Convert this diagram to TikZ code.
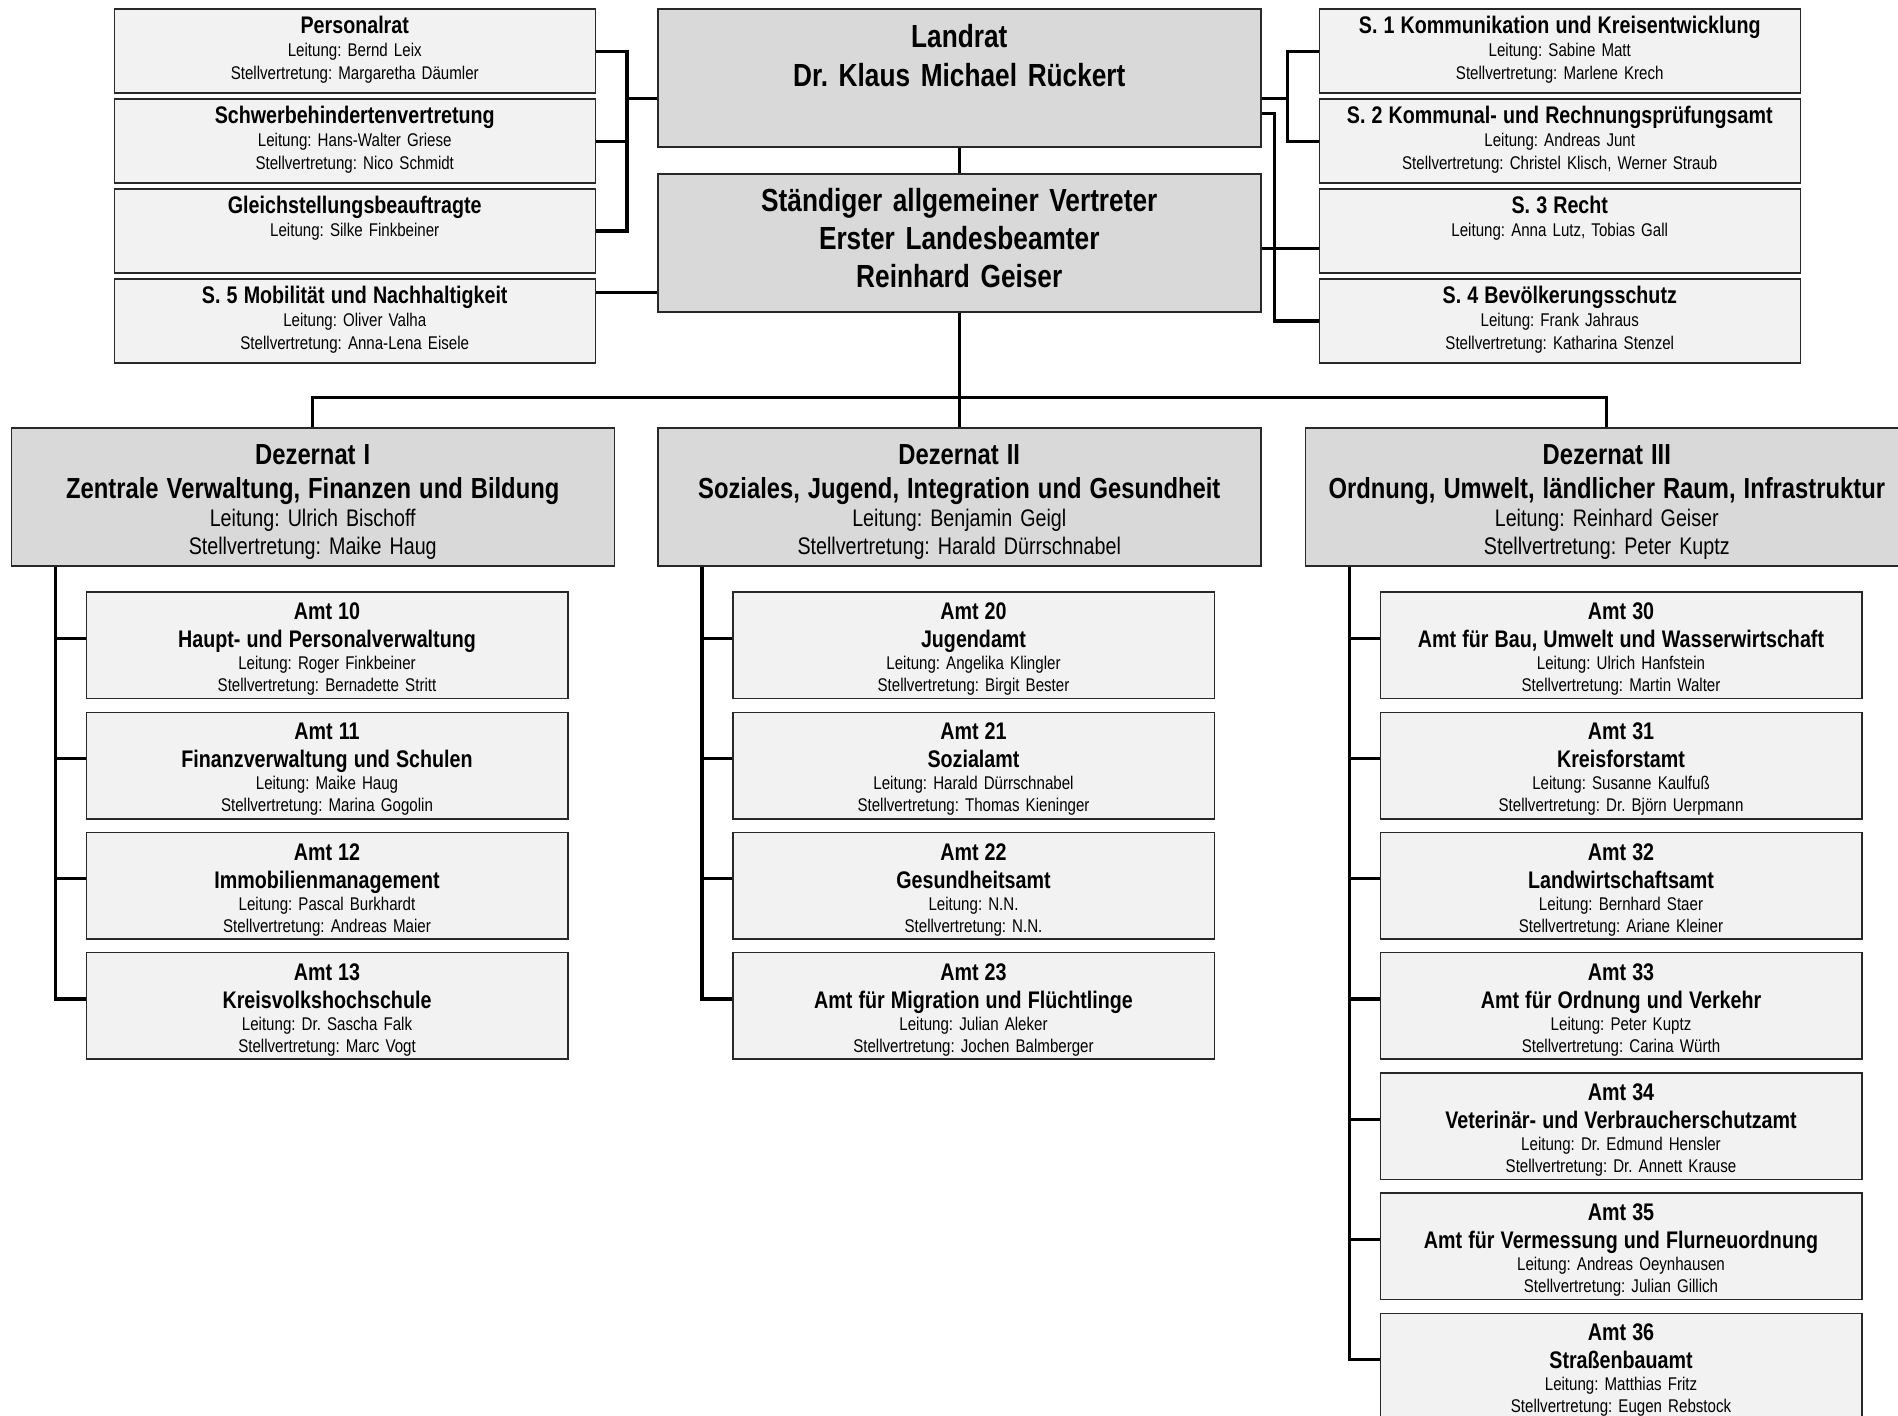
\documentclass[tikz,border=0pt]{standalone}
\usepackage{fontspec}
\setmainfont{Liberation Sans}[FakeStretch=0.82]
\usepackage{xcolor}
\usepackage{tikz}
\usetikzlibrary{positioning}
\frenchspacing
\definecolor{boxgrey}{RGB}{217,217,217}
\definecolor{boxlight}{RGB}{242,242,242}
\definecolor{boxline}{RGB}{40,40,40}
\tikzstyle{bigbox} = [rectangle, draw=boxline, line width=0.75pt, fill=boxgrey, inner sep=0pt, text width=301.5pt, align=center, text height=19pt, text depth=50pt, font=\fontsize{16}{19.4}\selectfont\bfseries]
\tikzstyle{dezbox} = [bigbox, text height=18pt, text depth=51pt, font=\fontsize{12}{14}\selectfont]
\tikzstyle{smallbox} = [rectangle, draw=boxline, line width=0.75pt, fill=boxlight, inner sep=0pt, text width=240.5pt, align=center, text height=12.2pt, text depth=29.8pt, font=\fontsize{9.2}{11.5}\selectfont]
\tikzstyle{amtbox} = [smallbox, text width=240.75pt, text height=13.8pt, text depth=39.45pt, font=\fontsize{9.2}{11}\selectfont]
\tikzstyle{link} = [line width=1.6pt]
\newcommand{\smalltitle}[1]{{\fontsize{12}{13.5}\selectfont\bfseries #1\par}}
\newcommand{\amttitle}[1]{{\fontsize{12}{14}\selectfont\bfseries #1\par}}
\newcommand{\deztitle}[1]{{\fontsize{14.5}{17}\selectfont\bfseries #1\par}}

\begin{document}
\begin{tikzpicture}
    \useasboundingbox (0,0) rectangle (949pt,-708pt);
    % Spitze
    \node (lr) [bigbox, anchor=north west] at (328.5pt,-4.25pt) {Landrat\\Dr. Klaus Michael Rückert};
    \node (stv) [bigbox, below=12.6pt of lr, font=\fontsize{16}{18.8}\selectfont\bfseries] {Ständiger allgemeiner Vertreter\\Erster Landesbeamter\\Reinhard Geiser};
    % Stabsstellen links
    \node (pr) [smallbox, anchor=north east] at ([xshift=-30.5pt]lr.north west) {\smalltitle{Personalrat}Leitung: Bernd Leix\\Stellvertretung: Margaretha Däumler};
    \node (sbv) [smallbox, below=2.2pt of pr] {\smalltitle{Schwerbehindertenvertretung}Leitung: Hans-Walter Griese\\Stellvertretung: Nico Schmidt};
    \node (gsb) [smallbox, below=2.2pt of sbv] {\smalltitle{Gleichstellungsbeauftragte}Leitung: Silke Finkbeiner};
    \node (s5) [smallbox, below=2.2pt of gsb] {\smalltitle{S. 5 Mobilität und Nachhaltigkeit}Leitung: Oliver Valha\\Stellvertretung: Anna-Lena Eisele};
    % Stabsstellen rechts
    \node (s1) [smallbox, anchor=north west] at ([xshift=28.5pt]lr.north east) {\smalltitle{S. 1 Kommunikation und Kreisentwicklung}Leitung: Sabine Matt\\Stellvertretung: Marlene Krech};
    \node (s2) [smallbox, below=2.2pt of s1] {\smalltitle{S. 2 Kommunal- und Rechnungsprüfungsamt}Leitung: Andreas Junt\\Stellvertretung: Christel Klisch, Werner Straub};
    \node (s3) [smallbox, below=2.2pt of s2] {\smalltitle{S. 3 Recht}Leitung: Anna Lutz, Tobias Gall};
    \node (s4) [smallbox, below=2.2pt of s3] {\smalltitle{S. 4 Bevölkerungsschutz}Leitung: Frank Jahraus\\Stellvertretung: Katharina Stenzel};
    % Dezernate
    \node (d2) [dezbox, below=57.4pt of stv] {\deztitle{Dezernat II\\Soziales, Jugend, Integration und Gesundheit}Leitung: Benjamin Geigl\\Stellvertretung: Harald Dürrschnabel};
    \node (d1) [dezbox, left=21pt of d2] {\deztitle{Dezernat I\\Zentrale Verwaltung, Finanzen und Bildung}Leitung: Ulrich Bischoff\\Stellvertretung: Maike Haug};
    \node (d3) [dezbox, right=21.5pt of d2] {\deztitle{Dezernat III\\Ordnung, Umwelt, ländlicher Raum, Infrastruktur}Leitung: Reinhard Geiser\\Stellvertretung: Peter Kuptz};
    % Dezernat I
    \node (a10) [amtbox, anchor=north west] at ([xshift=37.5pt, yshift=-12.15pt]d1.south west) {\amttitle{Amt 10\\Haupt- und Personalverwaltung}Leitung: Roger Finkbeiner\\Stellvertretung: Bernadette Stritt};
    \node (a11) [amtbox, below=6.1pt of a10] {\amttitle{Amt 11\\Finanzverwaltung und Schulen}Leitung: Maike Haug\\Stellvertretung: Marina Gogolin};
    \node (a12) [amtbox, below=6.1pt of a11] {\amttitle{Amt 12\\Immobilienmanagement}Leitung: Pascal Burkhardt\\Stellvertretung: Andreas Maier};
    \node (a13) [amtbox, below=6.1pt of a12] {\amttitle{Amt 13\\Kreisvolkshochschule}Leitung: Dr. Sascha Falk\\Stellvertretung: Marc Vogt};
    % Dezernat II
    \node (a20) [amtbox, anchor=north west] at ([xshift=37.5pt, yshift=-12.15pt]d2.south west) {\amttitle{Amt 20\\Jugendamt}Leitung: Angelika Klingler\\Stellvertretung: Birgit Bester};
    \node (a21) [amtbox, below=6.1pt of a20] {\amttitle{Amt 21\\Sozialamt}Leitung: Harald Dürrschnabel\\Stellvertretung: Thomas Kieninger};
    \node (a22) [amtbox, below=6.1pt of a21] {\amttitle{Amt 22\\Gesundheitsamt}Leitung: N.N.\\Stellvertretung: N.N.};
    \node (a23) [amtbox, below=6.1pt of a22] {\amttitle{Amt 23\\Amt für Migration und Flüchtlinge}Leitung: Julian Aleker\\Stellvertretung: Jochen Balmberger};
    % Dezernat III
    \node (a30) [amtbox, anchor=north west] at ([xshift=37.5pt, yshift=-12.15pt]d3.south west) {\amttitle{Amt 30\\Amt für Bau, Umwelt und Wasserwirtschaft}Leitung: Ulrich Hanfstein\\Stellvertretung: Martin Walter};
    \node (a31) [amtbox, below=6.1pt of a30] {\amttitle{Amt 31\\Kreisforstamt}Leitung: Susanne Kaulfuß\\Stellvertretung: Dr. Björn Uerpmann};
    \node (a32) [amtbox, below=6.1pt of a31] {\amttitle{Amt 32\\Landwirtschaftsamt}Leitung: Bernhard Staer\\Stellvertretung: Ariane Kleiner};
    \node (a33) [amtbox, below=6.1pt of a32] {\amttitle{Amt 33\\Amt für Ordnung und Verkehr}Leitung: Peter Kuptz\\Stellvertretung: Carina Würth};
    \node (a34) [amtbox, below=6.1pt of a33] {\amttitle{Amt 34\\Veterinär- und Verbraucherschutzamt}Leitung: Dr. Edmund Hensler\\Stellvertretung: Dr. Annett Krause};
    \node (a35) [amtbox, below=6.1pt of a34] {\amttitle{Amt 35\\Amt für Vermessung und Flurneuordnung}Leitung: Andreas Oeynhausen\\Stellvertretung: Julian Gillich};
    \node (a36) [amtbox, below=6.1pt of a35] {\amttitle{Amt 36\\Straßenbauamt}Leitung: Matthias Fritz\\Stellvertretung: Eugen Rebstock};

    % Linien Spitze
    \coordinate (bus) at ([yshift=15.1pt]d2.north);
    \draw [link] (lr.south) -- (stv.north);
    \draw [link] (stv.south) -- (d2.north);
    \draw [link] (d1.north) |- (bus) -| (d3.north);
    % Linien links
    \coordinate (brl) at ([xshift=15.5pt]pr.east);
    \coordinate (lrl) at ([yshift=-10pt]lr.west);
    \coordinate (stl) at ([yshift=-24.6pt]stv.west);
    \draw [link] (pr.east) -- (brl) |- (gsb.east);
    \draw [link] (sbv.east) -- (sbv.east -| brl);
    \draw [link] (lrl) -- (lrl -| brl);
    \draw [link] (stl) -- (stl -| s5.east);
    % Linien rechts
    \coordinate (brr) at ([xshift=-15.5pt]s1.west);
    \coordinate (lrr) at ([yshift=-10pt]lr.east);
    \coordinate (lrs) at ([yshift=-17.8pt]lr.east);
    \coordinate (brs) at ([xshift=6.5pt]lrs);
    \coordinate (str) at ([yshift=-2.75pt]stv.east);
    \draw [link] (s1.west) -- (brr) |- (s2.west);
    \draw [link] (lrr) -- (lrr -| brr);
    \draw [link] (lrs) -- (brs) |- (s4.west);
    \draw [link] (str) -- (str -| s3.west);
    % Linien Dezernat I
    \coordinate (sp1) at ([xshift=22.5pt]d1.south west);
    \draw [link] (sp1) |- ([yshift=3.5pt]a13.west);
    \draw [link] ([yshift=3.5pt]a10.west) -| (sp1);
    \draw [link] ([yshift=3.5pt]a11.west) -| (sp1);
    \draw [link] ([yshift=3.5pt]a12.west) -| (sp1);
    % Linien Dezernat II
    \coordinate (sp2) at ([xshift=22.5pt]d2.south west);
    \draw [link] (sp2) |- ([yshift=3.5pt]a23.west);
    \draw [link] ([yshift=3.5pt]a20.west) -| (sp2);
    \draw [link] ([yshift=3.5pt]a21.west) -| (sp2);
    \draw [link] ([yshift=3.5pt]a22.west) -| (sp2);
    % Linien Dezernat III
    \coordinate (sp3) at ([xshift=22.5pt]d3.south west);
    \draw [link] (sp3) |- ([yshift=3.5pt]a36.west);
    \draw [link] ([yshift=3.5pt]a30.west) -| (sp3);
    \draw [link] ([yshift=3.5pt]a31.west) -| (sp3);
    \draw [link] ([yshift=3.5pt]a32.west) -| (sp3);
    \draw [link] ([yshift=3.5pt]a33.west) -| (sp3);
    \draw [link] ([yshift=3.5pt]a34.west) -| (sp3);
    \draw [link] ([yshift=3.5pt]a35.west) -| (sp3);
\end{tikzpicture}
\end{document}
